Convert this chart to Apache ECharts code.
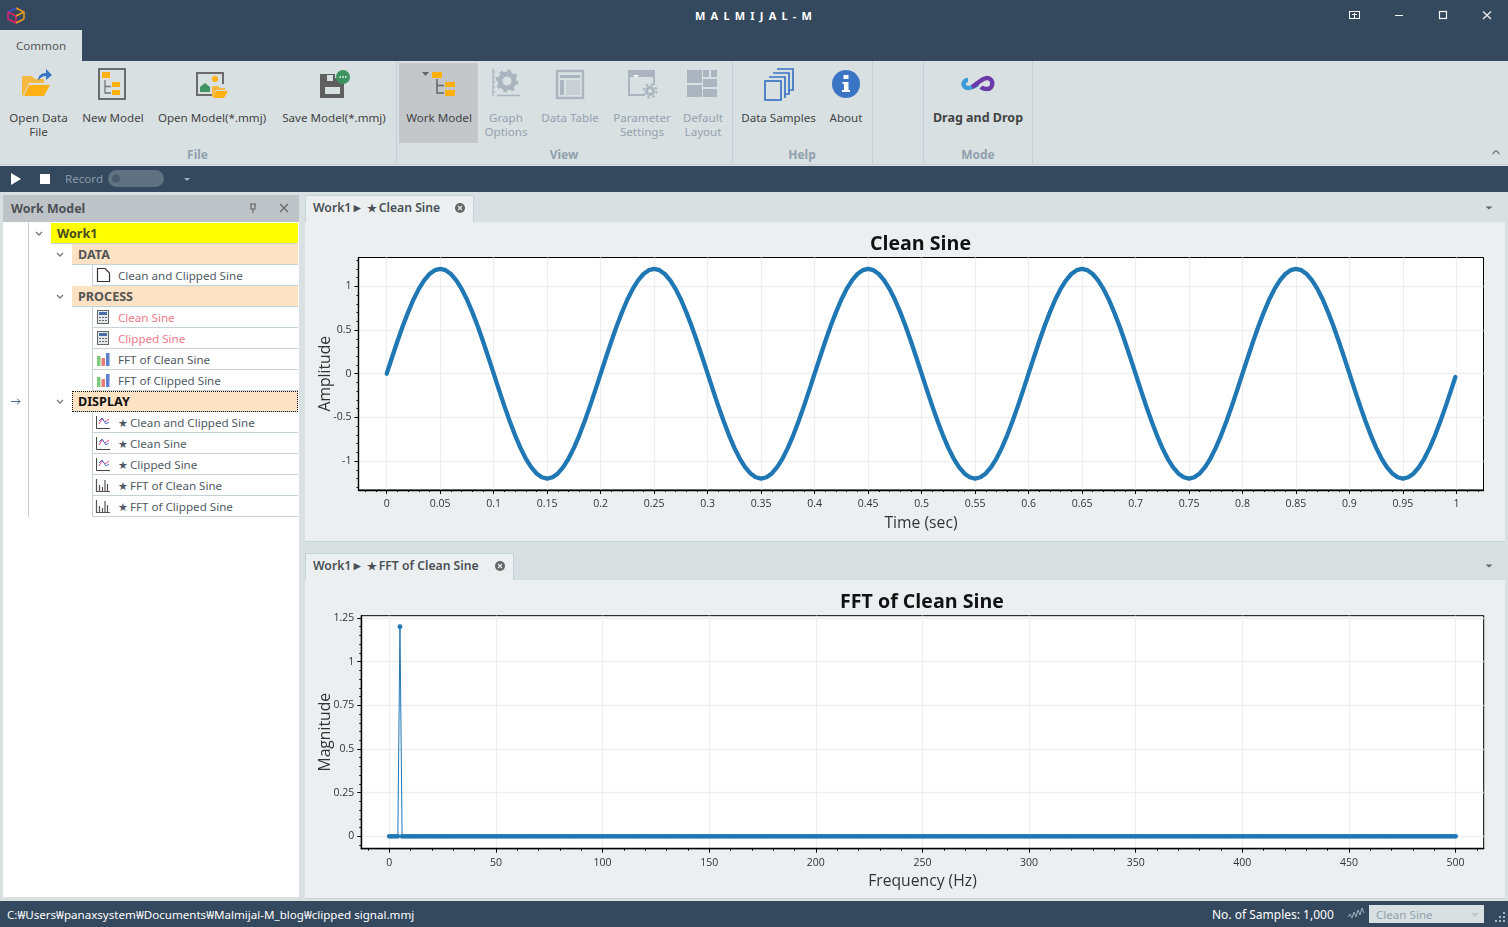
<!DOCTYPE html>
<html><head><meta charset="utf-8">
<script src="https://cdn.jsdelivr.net/npm/echarts@6/dist/echarts.min.js"></script>
<style>
html,body{margin:0;padding:0;width:1508px;height:927px;overflow:hidden;background:#d9e0e2;font-family:"Noto Sans",sans-serif;font-size:11.6px;color:#444}
.a{position:absolute;white-space:nowrap}
.c{transform:translateX(-50%);text-align:center;line-height:14px}
.dark{background:#34495e}
.dis{color:#94a2ae}
.grp{font-weight:700;color:#8fa0ae;font-size:12px}
.row{position:absolute;height:20px;line-height:20px;border-bottom:1px solid #c5d3d8;box-sizing:content-box}
.tab{position:absolute;left:305px;height:27px;background:#ebeff0;border:1px solid #c5d3d8;border-bottom:none;box-sizing:border-box;font-size:12.2px;font-weight:600;line-height:23px;padding-left:7px;color:#4a4f55}
.pane{position:absolute;left:305px;width:1200px;background:#ebeff0;border-bottom:1px solid #c5d3d8}
.st{font-size:10.5px;margin-right:-1px}
</style></head><body>
<div class="a dark" style="left:0;top:0;width:1508px;height:61px"></div>
<div class="a" style="left:0;top:30px;width:82px;height:31px;background:#d9e0e2;line-height:31px;text-align:center;color:#555">Common</div>
<div class="a" style="left:695px;top:8px;color:#fff;font-weight:700;font-size:11px;letter-spacing:5.2px">MALMIJAL-M</div>
<div class="a" style="left:0;top:61px;width:1508px;height:104px;background:#d9e0e2;border-bottom:1px solid #c5ced2;box-sizing:border-box"></div>
<div class="a" style="left:399px;top:63px;width:79px;height:80px;background:#c3c7ca"></div>
<div class="a" style="left:396px;top:61px;width:1px;height:104px;background:#c5ced2"></div>
<div class="a" style="left:732px;top:61px;width:1px;height:104px;background:#c5ced2"></div>
<div class="a" style="left:872px;top:61px;width:1px;height:104px;background:#c5ced2"></div>
<div class="a" style="left:923px;top:61px;width:1px;height:104px;background:#c5ced2"></div>
<div class="a" style="left:1032px;top:61px;width:1px;height:104px;background:#c5ced2"></div>

<div class="a c" style="left:38.500px;top:111px">Open Data<br>File</div>
<div class="a c" style="left:113px;top:111px">New Model</div>
<div class="a c" style="left:212px;top:111px">Open Model(*.mmj)</div>
<div class="a c" style="left:334px;top:111px">Save Model(*.mmj)</div>
<div class="a c" style="left:439px;top:111px">Work Model</div>
<div class="a c dis" style="left:506px;top:111px">Graph<br>Options</div>
<div class="a c dis" style="left:570px;top:111px">Data Table</div>
<div class="a c dis" style="left:642px;top:111px">Parameter<br>Settings</div>
<div class="a c dis" style="left:703px;top:111px">Default<br>Layout</div>
<div class="a c" style="left:778.500px;top:111px">Data Samples</div>
<div class="a c" style="left:846px;top:111px">About</div>
<div class="a c" style="left:978px;top:111px;font-weight:700;font-size:12.5px">Drag and Drop</div>
<div class="a c grp" style="left:197.500px;top:148px">File</div>
<div class="a c grp" style="left:564px;top:148px">View</div>
<div class="a c grp" style="left:802px;top:148px">Help</div>
<div class="a c grp" style="left:978px;top:148px">Mode</div>

<div class="a dark" style="left:0;top:166px;width:1508px;height:26px"></div>
<div class="a" style="left:65px;top:170px;color:#8c9bab;line-height:17px">Record</div>
<div class="a" style="left:108px;top:170px;width:56px;height:17px;border-radius:9px;background:#607282"></div>

<div class="a" style="left:3px;top:195px;width:296px;height:27px;background:#bdc3c7;font-weight:700;font-size:12.4px;line-height:27px;padding-left:8px;box-sizing:border-box;color:#4d5156">Work Model</div>
<div class="a" style="left:3px;top:222px;width:296px;height:675px;background:#fff"></div>
<div id="tree"></div>

<div class="tab" style="top:195px;width:169px">Work1► <span class="st">★</span> Clean Sine</div>
<div class="pane" style="top:222px;height:319px"></div>
<div class="tab" style="top:553px;width:209px">Work1► <span class="st">★</span> FFT of Clean Sine</div>
<div class="pane" style="top:580px;height:318px"></div>
<div id="c1" class="a" style="left:305px;top:222px;width:1200px;height:319px"></div>
<div id="c2" class="a" style="left:305px;top:580px;width:1200px;height:318px"></div>

<div class="a dark" style="left:0;top:901px;width:1508px;height:26px"></div>
<div class="a" style="left:7px;top:906px;color:#fff;line-height:18px">C:₩Users₩panaxsystem₩Documents₩Malmijal-M_blog₩clipped signal.mmj</div>
<div class="a" style="left:1212px;top:906px;color:#fff;line-height:18px;font-size:12px">No. of Samples: 1,000</div>
<div class="a" style="left:1369px;top:905px;width:115px;height:18px;background:#d9e0e2;color:#8fa0ae;line-height:19px;padding-left:7px;box-sizing:border-box">Clean Sine</div>

<svg id="ic" class="a" style="left:0;top:0;pointer-events:none" width="1508" height="927" viewBox="0 0 1508 927">
<!-- logo -->
<path d="M16 8 L24 12 V19" fill="none" stroke="#ef9a1a" stroke-width="1.5"/><path d="M16 8 L8 12 V19" fill="none" stroke="#3a50d0" stroke-width="1.5"/>
<path d="M8 12 V19 L16 23 M8 12 L16 16 V23" fill="none" stroke="#e0206a" stroke-width="1.5"/><path d="M24 12 L16 16 M24 19 L16 23" fill="none" stroke="#f0a020" stroke-width="1.5"/>
<!-- window buttons -->
<rect x="1349.500" y="11.500" width="10" height="7" fill="none" stroke="#fff"/><path d="M1352 14.500H1357M1354.500 13V18" stroke="#fff"/>
<path d="M1395 15.500H1403" stroke="#fff" stroke-width="1"/><rect x="1439.500" y="11.500" width="7" height="7" fill="none" stroke="#fff" stroke-width="1.200"/>
<path d="M1483 11.500L1491 19M1491 11.500L1483 19" stroke="#eee" stroke-width="1.300"/>
<!-- open data file -->
<path d="M22 96V76H32L35 79H44V83H29L23 96Z" fill="#f5b942"/><path d="M29 85H50L44 96H24Z" fill="#ffb013"/>
<path d="M38 81C38 75 42 73 46 73V69L52 75L46 80V76C42 76 40 78 38 81Z" fill="#3a74c4"/>
<!-- new model -->
<rect x="99" y="69" width="26" height="30" fill="none" stroke="#6b6b6b" stroke-width="2"/>
<rect x="102" y="72" width="8" height="6" fill="#fdb010"/><rect x="112" y="82" width="8" height="5" fill="#fdb010"/><rect x="112" y="90" width="8" height="5" fill="#fdb010"/>
<path d="M105 80V93H111M105 86.500H111" fill="none" stroke="#777" stroke-width="1.300"/>
<!-- open model -->
<path d="M212 95H197V73H223V84" fill="none" stroke="#6b6b6b" stroke-width="2"/>
<path d="M200 92V87L205 83L210 87V92Z" fill="#3d9460"/><circle cx="215" cy="79" r="3" fill="#fdb010"/>
<path d="M212 97V86H218L220 88H225V90H216L213 97Z" fill="#f5b942"/><path d="M216 91H228L224 98H213Z" fill="#ffb013"/>
<!-- save model -->
<path d="M320 74H335V78L344 80V98H320Z" fill="#5f5f5f"/><rect x="327" y="75" width="6" height="6" fill="#d9e0e2"/><rect x="325" y="87" width="15" height="7" fill="#d9e0e2"/>
<circle cx="343" cy="77" r="7" fill="#3d9460"/><path d="M339.500 77h1.500M342.300 77h1.500M345 77h1.500" stroke="#fff" stroke-width="1.600"/>
<!-- work model -->
<path d="M422 72H429L425.500 76Z" fill="#666"/><rect x="432" y="72" width="10" height="6" fill="#fdb010"/><rect x="445" y="82" width="10" height="5" fill="#fdb010"/><rect x="445" y="90" width="10" height="6" fill="#fdb010"/>
<path d="M437 79V93H444M437 85.500H444" fill="none" stroke="#666" stroke-width="1.500"/>
<!-- graph options -->
<path d="M493 68V96M493 72h2M493 77h2M493 82h2M493 87h2M493 92h2M497 95.500H520" fill="none" stroke="#aab5bf" stroke-width="1.300"/>
<circle cx="507" cy="81" r="7" fill="none" stroke="#aab5bf" stroke-width="5"/><circle cx="507" cy="81" r="10" fill="none" stroke="#aab5bf" stroke-width="3" stroke-dasharray="3.500 4.350"/>
<g transform="translate(0,-2)">
<!-- data table -->
<rect x="557" y="73" width="26" height="27" fill="none" stroke="#aab5bf" stroke-width="2.400"/><rect x="560" y="77" width="20" height="3" fill="#aab5bf"/><rect x="560" y="82" width="4" height="15" fill="#aab5bf"/><rect x="566" y="82" width="14" height="15" fill="#c8d0d6"/>
<!-- parameter -->
<path d="M645 97H629V73H654V87" fill="none" stroke="#aab5bf" stroke-width="2"/><rect x="629" y="73" width="25" height="6" fill="#aab5bf"/><path d="M633 77H639L636 80Z" fill="#fff"/>
<circle cx="650" cy="93" r="3.500" fill="none" stroke="#aab5bf" stroke-width="3"/><circle cx="650" cy="93" r="6.500" fill="none" stroke="#aab5bf" stroke-width="2" stroke-dasharray="2.500 2.600"/>
<!-- default layout -->
<g fill="#aab5bf"><rect x="687" y="72" width="15" height="13"/><rect x="703" y="72" width="6" height="7"/><rect x="711" y="72" width="6" height="7"/><rect x="703" y="81" width="14" height="8"/><rect x="687" y="87" width="15" height="12"/><rect x="703" y="91" width="14" height="8"/></g>
<!-- data samples -->
<g fill="none" stroke="#3a74c4" stroke-width="1.700"><path d="M777 71H793V92H789"/><path d="M773 75H789V96H785"/><path d="M769 79H785V100"/><rect x="765" y="83" width="16" height="19" fill="#d9e0e2"/></g>
<!-- about -->
<circle cx="846" cy="86" r="14" fill="#3a74c4"/><rect x="843.500" y="77" width="5" height="4" fill="#fff"/><path d="M842.500 84H848.500V92H850V94H842V92H844V86H842.500Z" fill="#fff"/>
<!-- drag and drop -->
<path d="M968 82C962 82 962 90 968 90C972 90 975 88 978 86" fill="none" stroke="#3c9ad8" stroke-width="4.500"/>
<path d="M972 89C976 87 982 80 987 80C994 80 994 91 987 91C984 91 982 90 981 89" fill="none" stroke="#6a3aa8" stroke-width="4.500"/>
</g>
<!-- collapse -->
<path d="M1492.500 154L1496 150.500L1499.500 154" fill="none" stroke="#777" stroke-width="1.200"/>
<!-- player -->
<path d="M11 173V185L21 179Z" fill="#fff"/><rect x="40" y="174" width="10" height="10" fill="#fff"/><circle cx="116" cy="178.500" r="4" fill="#4a5c6c"/><path d="M184 178H190L187 181Z" fill="#a3b0ba"/>
<!-- panel header -->
<path d="M250 204H256M251 204.500V209H255V204.500M253 209V213" fill="none" stroke="#666" stroke-width="1.200"/><path d="M280 204L288 212M288 204L280 212" stroke="#666" stroke-width="1.300"/>
<!-- tab buttons -->
<circle cx="460" cy="208" r="5" fill="#666"/><path d="M458 206L462 210M462 206L458 210" stroke="#ebeff0" stroke-width="1.100"/>
<circle cx="500" cy="566" r="5" fill="#666"/><path d="M498 564L502 568M502 564L498 568" stroke="#ebeff0" stroke-width="1.100"/>
<path d="M1485.500 206.500H1492.500L1489 209.500Z" fill="#666"/><path d="M1485.500 564.500H1492.500L1489 567.500Z" fill="#666"/>
<!-- status -->
<path d="M1348 917L1350 914L1352 918L1354 912L1356 917L1358 910L1360 915L1362 908L1364 913" fill="none" stroke="#9fb0bd" stroke-width="1"/>
<path d="M1471 913H1479L1475 917Z" fill="#c0cad0"/>
<g fill="#aab8c2"><rect x="1503" y="912" width="2" height="2"/><rect x="1499" y="916" width="2" height="2"/><rect x="1503" y="916" width="2" height="2"/><rect x="1495" y="920" width="2" height="2"/><rect x="1499" y="920" width="2" height="2"/><rect x="1503" y="920" width="2" height="2"/></g>
<g id="treeic"></g>
</svg>

<script>
// ---- clean sine: time (s) and amplitude
var sineTime = [0,0.005,0.01,0.015,0.02,0.025,0.03,0.035,0.04,0.045,0.05,0.055,0.06,0.065,0.07,0.075,0.08,0.085,0.09,0.095,
0.1,0.105,0.11,0.115,0.12,0.125,0.13,0.135,0.14,0.145,0.15,0.155,0.16,0.165,0.17,0.175,0.18,0.185,0.19,0.195,
0.2,0.205,0.21,0.215,0.22,0.225,0.23,0.235,0.24,0.245,0.25,0.255,0.26,0.265,0.27,0.275,0.28,0.285,0.29,0.295,
0.3,0.305,0.31,0.315,0.32,0.325,0.33,0.335,0.34,0.345,0.35,0.355,0.36,0.365,0.37,0.375,0.38,0.385,0.39,0.395,
0.4,0.405,0.41,0.415,0.42,0.425,0.43,0.435,0.44,0.445,0.45,0.455,0.46,0.465,0.47,0.475,0.48,0.485,0.49,0.495,
0.5,0.505,0.51,0.515,0.52,0.525,0.53,0.535,0.54,0.545,0.55,0.555,0.56,0.565,0.57,0.575,0.58,0.585,0.59,0.595,
0.6,0.605,0.61,0.615,0.62,0.625,0.63,0.635,0.64,0.645,0.65,0.655,0.66,0.665,0.67,0.675,0.68,0.685,0.69,0.695,
0.7,0.705,0.71,0.715,0.72,0.725,0.73,0.735,0.74,0.745,0.75,0.755,0.76,0.765,0.77,0.775,0.78,0.785,0.79,0.795,
0.8,0.805,0.81,0.815,0.82,0.825,0.83,0.835,0.84,0.845,0.85,0.855,0.86,0.865,0.87,0.875,0.88,0.885,0.89,0.895,
0.9,0.905,0.91,0.915,0.92,0.925,0.93,0.935,0.94,0.945,0.95,0.955,0.96,0.965,0.97,0.975,0.98,0.985,0.99,0.995,0.999];
var sineAmp = [0,0.188,0.371,0.545,0.705,0.849,0.971,1.069,1.141,1.185,1.2,1.185,1.141,1.069,0.971,0.849,0.705,0.545,0.371,0.188,
0,-0.188,-0.371,-0.545,-0.705,-0.849,-0.971,-1.069,-1.141,-1.185,-1.2,-1.185,-1.141,-1.069,-0.971,-0.849,-0.705,-0.545,-0.371,-0.188,
0,0.188,0.371,0.545,0.705,0.849,0.971,1.069,1.141,1.185,1.2,1.185,1.141,1.069,0.971,0.849,0.705,0.545,0.371,0.188,
0,-0.188,-0.371,-0.545,-0.705,-0.849,-0.971,-1.069,-1.141,-1.185,-1.2,-1.185,-1.141,-1.069,-0.971,-0.849,-0.705,-0.545,-0.371,-0.188,
0,0.188,0.371,0.545,0.705,0.849,0.971,1.069,1.141,1.185,1.2,1.185,1.141,1.069,0.971,0.849,0.705,0.545,0.371,0.188,
0,-0.188,-0.371,-0.545,-0.705,-0.849,-0.971,-1.069,-1.141,-1.185,-1.2,-1.185,-1.141,-1.069,-0.971,-0.849,-0.705,-0.545,-0.371,-0.188,
0,0.188,0.371,0.545,0.705,0.849,0.971,1.069,1.141,1.185,1.2,1.185,1.141,1.069,0.971,0.849,0.705,0.545,0.371,0.188,
0,-0.188,-0.371,-0.545,-0.705,-0.849,-0.971,-1.069,-1.141,-1.185,-1.2,-1.185,-1.141,-1.069,-0.971,-0.849,-0.705,-0.545,-0.371,-0.188,
0,0.188,0.371,0.545,0.705,0.849,0.971,1.069,1.141,1.185,1.2,1.185,1.141,1.069,0.971,0.849,0.705,0.545,0.371,0.188,
0,-0.188,-0.371,-0.545,-0.705,-0.849,-0.971,-1.069,-1.141,-1.185,-1.2,-1.185,-1.141,-1.069,-0.971,-0.849,-0.705,-0.545,-0.371,-0.188,-0.038];
// ---- FFT: the single 5 Hz line and the zero floor, 1 Hz apart
var fftFreq = [0,1,2,3,4,5,6,7,8,9,10,11,12,13,14,15,16,17,18,19,20,21,22,23,24,25,26,27,28,29,30,31,32,33,34,35,36,37,38,39,40,41,42,43,44,45,46,47,48,49,
50,51,52,53,54,55,56,57,58,59,60,61,62,63,64,65,66,67,68,69,70,71,72,73,74,75,76,77,78,79,80,81,82,83,84,85,86,87,88,89,90,91,92,93,94,95,96,97,98,99,
100,101,102,103,104,105,106,107,108,109,110,111,112,113,114,115,116,117,118,119,120,121,122,123,124,125,126,127,128,129,130,131,132,133,134,135,136,137,138,139,140,141,142,143,144,145,146,147,148,149,
150,151,152,153,154,155,156,157,158,159,160,161,162,163,164,165,166,167,168,169,170,171,172,173,174,175,176,177,178,179,180,181,182,183,184,185,186,187,188,189,190,191,192,193,194,195,196,197,198,199,
200,201,202,203,204,205,206,207,208,209,210,211,212,213,214,215,216,217,218,219,220,221,222,223,224,225,226,227,228,229,230,231,232,233,234,235,236,237,238,239,240,241,242,243,244,245,246,247,248,249,
250,251,252,253,254,255,256,257,258,259,260,261,262,263,264,265,266,267,268,269,270,271,272,273,274,275,276,277,278,279,280,281,282,283,284,285,286,287,288,289,290,291,292,293,294,295,296,297,298,299,
300,301,302,303,304,305,306,307,308,309,310,311,312,313,314,315,316,317,318,319,320,321,322,323,324,325,326,327,328,329,330,331,332,333,334,335,336,337,338,339,340,341,342,343,344,345,346,347,348,349,
350,351,352,353,354,355,356,357,358,359,360,361,362,363,364,365,366,367,368,369,370,371,372,373,374,375,376,377,378,379,380,381,382,383,384,385,386,387,388,389,390,391,392,393,394,395,396,397,398,399,
400,401,402,403,404,405,406,407,408,409,410,411,412,413,414,415,416,417,418,419,420,421,422,423,424,425,426,427,428,429,430,431,432,433,434,435,436,437,438,439,440,441,442,443,444,445,446,447,448,449,
450,451,452,453,454,455,456,457,458,459,460,461,462,463,464,465,466,467,468,469,470,471,472,473,474,475,476,477,478,479,480,481,482,483,484,485,486,487,488,489,490,491,492,493,494,495,496,497,498,499,500];
var fftMag = [0,0,0,0,0,1.2,0,0,0,0,0,0,0,0,0,0,0,0,0,0,0,0,0,0,0,0,0,0,0,0,0,0,0,0,0,0,0,0,0,0,0,0,0,0,0,0,0,0,0,0,
0,0,0,0,0,0,0,0,0,0,0,0,0,0,0,0,0,0,0,0,0,0,0,0,0,0,0,0,0,0,0,0,0,0,0,0,0,0,0,0,0,0,0,0,0,0,0,0,0,0,
0,0,0,0,0,0,0,0,0,0,0,0,0,0,0,0,0,0,0,0,0,0,0,0,0,0,0,0,0,0,0,0,0,0,0,0,0,0,0,0,0,0,0,0,0,0,0,0,0,0,
0,0,0,0,0,0,0,0,0,0,0,0,0,0,0,0,0,0,0,0,0,0,0,0,0,0,0,0,0,0,0,0,0,0,0,0,0,0,0,0,0,0,0,0,0,0,0,0,0,0,
0,0,0,0,0,0,0,0,0,0,0,0,0,0,0,0,0,0,0,0,0,0,0,0,0,0,0,0,0,0,0,0,0,0,0,0,0,0,0,0,0,0,0,0,0,0,0,0,0,0,
0,0,0,0,0,0,0,0,0,0,0,0,0,0,0,0,0,0,0,0,0,0,0,0,0,0,0,0,0,0,0,0,0,0,0,0,0,0,0,0,0,0,0,0,0,0,0,0,0,0,
0,0,0,0,0,0,0,0,0,0,0,0,0,0,0,0,0,0,0,0,0,0,0,0,0,0,0,0,0,0,0,0,0,0,0,0,0,0,0,0,0,0,0,0,0,0,0,0,0,0,
0,0,0,0,0,0,0,0,0,0,0,0,0,0,0,0,0,0,0,0,0,0,0,0,0,0,0,0,0,0,0,0,0,0,0,0,0,0,0,0,0,0,0,0,0,0,0,0,0,0,
0,0,0,0,0,0,0,0,0,0,0,0,0,0,0,0,0,0,0,0,0,0,0,0,0,0,0,0,0,0,0,0,0,0,0,0,0,0,0,0,0,0,0,0,0,0,0,0,0,0,
0,0,0,0,0,0,0,0,0,0,0,0,0,0,0,0,0,0,0,0,0,0,0,0,0,0,0,0,0,0,0,0,0,0,0,0,0,0,0,0,0,0,0,0,0,0,0,0,0,0,0];
// ---- tick values
var sineXTicks = [0,0.05,0.1,0.15,0.2,0.25,0.3,0.35,0.4,0.45,0.5,0.55,0.6,0.65,0.7,0.75,0.8,0.85,0.9,0.95,1];
var sineYTicks = [-1,-0.5,0,0.5,1];
var fftXTicks = [0,50,100,150,200,250,300,350,400,450,500];
var fftYTicks = [0,0.25,0.5,0.75,1,1.25];
var sineXMinor = [-0.02,-0.01,0.01,0.02,0.03,0.04,0.06,0.07,0.08,0.09,0.11,0.12,0.13,0.14,0.16,0.17,0.18,0.19,0.21,0.22,0.23,0.24,0.26,0.27,0.28,0.29,0.31,0.32,0.33,0.34,0.36,0.37,0.38,0.39,0.41,0.42,0.43,0.44,0.46,0.47,0.48,0.49,0.51,0.52,0.53,0.54,0.56,0.57,0.58,0.59,0.61,0.62,0.63,0.64,0.66,0.67,0.68,0.69,0.71,0.72,0.73,0.74,0.76,0.77,0.78,0.79,0.81,0.82,0.83,0.84,0.86,0.87,0.88,0.89,0.91,0.92,0.93,0.94,0.96,0.97,0.98,0.99,1.01,1.02];
var sineYMinor = [-1.3,-1.2,-1.1,-0.9,-0.8,-0.7,-0.6,-0.4,-0.3,-0.2,-0.1,0.1,0.2,0.3,0.4,0.6,0.7,0.8,0.9,1.1,1.2,1.3];
var fftXMinor = [-10,10,20,30,40,60,70,80,90,110,120,130,140,160,170,180,190,210,220,230,240,260,270,280,290,310,320,330,340,360,370,380,390,410,420,430,440,460,470,480,490,510];
var fftYMinor = [-0.05,0.05,0.1,0.15,0.2,0.3,0.35,0.4,0.45,0.55,0.6,0.65,0.7,0.8,0.85,0.9,0.95,1.05,1.1,1.15,1.2];
// ---- tree
var treeRows = [
 ['Work1',51,233,'y',''],['DATA',72,254,'p',''],['Clean and Clipped Sine',93,275,'l','doc'],['PROCESS',72,296,'p',''],
 ['Clean Sine',93,317,'r','calc'],['Clipped Sine',93,338,'r','calc'],['FFT of Clean Sine',93,359,'l','bar'],['FFT of Clipped Sine',93,380,'l','bar'],
 ['DISPLAY',72,401,'d',''],['★ Clean and Clipped Sine',93,422,'l','line'],['★ Clean Sine',93,443,'l','line'],['★ Clipped Sine',93,464,'l','line'],
 ['★ FFT of Clean Sine',93,485,'l','gbar'],['★ FFT of Clipped Sine',93,506,'l','gbar']];

var h='', s='';
treeRows.forEach(function(r){
  var x=r[1], y=r[2], k=r[3], st='left:'+x+'px;top:'+(y-10)+'px;width:'+(298-x)+'px;';
  if(k==='y') st+='background:#ffff00;font-weight:700;font-size:12.6px;line-height:22px;padding-left:6px;width:241px;color:#4a4a20;';
  else if(k==='p') st+='background:#fde2c4;font-weight:700;font-size:12.6px;line-height:22px;padding-left:6px;width:220px;color:#555;';
  else if(k==='d') st+='background:#fde2c4;font-weight:700;font-size:12.6px;line-height:22px;padding-left:6px;width:220px;color:#111;outline:1px dotted #111;outline-offset:-1px;';
  else st+='padding-left:25px;width:180px;line-height:22px;color:'+(k==='r'?'#f07a88':'#505a64')+';';
  var label=r[0].charAt(0)==='★' ? '<span class="st">★</span>'+r[0].slice(1) : r[0];
  h+='<div class="row" style="'+st+'">'+label+'</div>';
  var t=r[4];
  if(t==='doc') s+='<path d="M97.500 '+(y-6.5)+'H105L109.500 '+(y-2)+'V'+(y+6.5)+'H97.500Z" fill="#fff" stroke="#333" stroke-width="1.200"/>';
  if(t==='calc') s+='<rect x="97.500" y="'+(y-6.5)+'" width="11" height="13" fill="#e4e8ea" stroke="#666"/><rect x="99" y="'+(y-5)+'" width="8" height="3" fill="#4a6ea8"/><path d="M99 '+(y+0.5)+'h2m1 0h2m1 0h2M99 '+(y+3.5)+'h2m1 0h2m1 0h2" stroke="#666"/>';
  if(t==='bar') s+='<rect x="97" y="'+(y-3)+'" width="3.500" height="10" fill="#7ecb7e"/><rect x="101.500" y="'+(y-1)+'" width="3.500" height="8" fill="#ea7a78"/><rect x="106" y="'+(y-6)+'" width="3.500" height="13" fill="#5f7fd0"/>';
  if(t==='line') s+='<path d="M96.500 '+(y-6)+'V'+(y+6.5)+'H110" fill="none" stroke="#444"/><path d="M99 '+(y+2)+'L102 '+(y-3)+'L105 '+y+'L109 '+(y-3) +'" fill="none" stroke="#e8457a"/><path d="M99 '+(y-1)+'L102 '+(y-4)+'L106 '+(y+2)+'L109 '+(y)+'" fill="none" stroke="#4a6ed0"/>';
  if(t==='gbar') s+='<path d="M96.500 '+(y-6)+'V'+(y+6.5)+'H110M99.500 '+(y+6)+'V'+(y)+'M102.500 '+(y+6)+'V'+(y+2)+'M105 '+(y+6)+'V'+(y-5)+'M107.500 '+(y+6)+'V'+(y-1)+'" fill="none" stroke="#555" stroke-width="1.200"/>';
});
h+='<div class="a" style="left:28px;top:222px;width:1px;height:295px;background:#c5d3d8"></div>';
h+='<div class="a" style="left:92px;top:265px;width:1px;height:21px;background:#c5d3d8"></div>';
h+='<div class="a" style="left:92px;top:307px;width:1px;height:84px;background:#c5d3d8"></div>';
h+='<div class="a" style="left:92px;top:412px;width:1px;height:105px;background:#c5d3d8"></div>';
document.getElementById('tree').innerHTML=h;
[[39,233],[60,254],[60,296],[60,401]].forEach(function(p){
  s+='<path d="M'+(p[0]-3)+' '+(p[1]-1)+'L'+p[0]+' '+(p[1]+2)+'L'+(p[0]+3)+' '+(p[1]-1)+'" fill="none" stroke="#777" stroke-width="1.300"/>';
});
s+='<path d="M11 401.500H20M17 398.500L20 401.500L17 404.500" fill="none" stroke="#4a6a90"/>';
document.getElementById('treeic').innerHTML=s;

// ---- charts
var FONT='"Open Sans","Noto Sans",sans-serif', BLUE='#1f77b4';
function chart(el,cfg){
  var c=echarts.init(document.getElementById(el),null,{renderer:'canvas'});
  var majorX={type:'value',position:'bottom',min:cfg.xr[0],max:cfg.xr[1],name:cfg.xn,nameLocation:'middle',nameGap:cfg.xgap,
    nameTextStyle:{fontFamily:FONT,fontSize:15.7,color:'#333'},
    axisLine:{show:true,onZero:false,lineStyle:{color:'#000',width:1.4}},
    axisTick:{show:true,length:4,customValues:cfg.xt,lineStyle:{color:'#000',width:1}},
    axisLabel:{show:true,customValues:cfg.xt,margin:9,fontFamily:FONT,fontSize:10.5,color:'#333'},
    splitLine:{show:true,lineStyle:{color:'#eeeeee',width:1.3}}};
  var majorY={type:'value',position:'left',min:cfg.yr[0],max:cfg.yr[1],name:cfg.yn,nameLocation:'middle',nameGap:cfg.ygap,nameMoveOverlap:false,
    nameTextStyle:{fontFamily:FONT,fontSize:15.7,color:'#333'},
    axisLine:{show:true,onZero:false,lineStyle:{color:'#000',width:1.4}},
    axisTick:{show:true,length:4,customValues:cfg.yt,lineStyle:{color:'#000',width:1}},
    axisLabel:{show:true,customValues:cfg.yt,margin:7,padding:[2,0,0,0],fontFamily:FONT,fontSize:10.5,color:'#333'},
    splitLine:{show:true,lineStyle:{color:'#eeeeee',width:1.3}}};
  var minorX={type:'value',position:'bottom',min:cfg.xr[0],max:cfg.xr[1],axisLine:{show:false,onZero:false},axisLabel:{show:false},splitLine:{show:false},
    axisTick:{show:true,length:2,customValues:cfg.xm,lineStyle:{color:'#000',width:1}}};
  var minorY={type:'value',position:'left',min:cfg.yr[0],max:cfg.yr[1],axisLine:{show:false,onZero:false},axisLabel:{show:false},splitLine:{show:false},
    axisTick:{show:true,length:2,customValues:cfg.ym,lineStyle:{color:'#000',width:1}}};
  c.setOption({animation:false,backgroundColor:'transparent',
    title:{text:cfg.title,left:cfg.tx,top:cfg.ty,padding:0,textAlign:'center',textStyle:{fontFamily:FONT,fontSize:19.6,fontWeight:700,color:'#111'}},
    grid:{left:cfg.g[0],top:cfg.g[1],width:cfg.g[2],height:cfg.g[3],show:true,backgroundColor:'#fff',borderColor:'#000',borderWidth:1,containLabel:false,outerBoundsMode:'none'},
    xAxis:[majorX,minorX],yAxis:[majorY,minorY],
    series:[cfg.series]});
}
chart('c1',{title:'Clean Sine',tx:615.5,ty:12,g:[53.5,35.5,1125,232.5],
  xr:[-0.0264,1.0253],yr:[-1.331,1.33],xt:sineXTicks,yt:sineYTicks,xm:sineXMinor,ym:sineYMinor,
  xn:'Time (sec)',yn:'Amplitude',xgap:26,ygap:25,
  series:{type:'line',xAxisIndex:0,yAxisIndex:0,showSymbol:false,symbol:'none',smooth:false,
    data:sineTime.map(function(t,i){return [t,sineAmp[i]];}),lineStyle:{color:BLUE,width:4.3,cap:'round',join:'round'}}});
chart('c2',{title:'FFT of Clean Sine',tx:617,ty:12,g:[56.3,35.7,1122.4,233],
  xr:[-13.13,513.2],yr:[-0.071,1.263],xt:fftXTicks,yt:fftYTicks,xm:fftXMinor,ym:fftYMinor,
  xn:'Frequency (Hz)',yn:'Magnitude',xgap:25,ygap:28,
  series:{type:'line',xAxisIndex:0,yAxisIndex:0,symbol:'circle',symbolSize:4.8,showAllSymbol:true,showSymbol:true,
    data:fftFreq.map(function(f,i){return [f,fftMag[i]];}),
    itemStyle:{color:BLUE},lineStyle:{color:BLUE,width:1}}});
</script>
</body></html>
